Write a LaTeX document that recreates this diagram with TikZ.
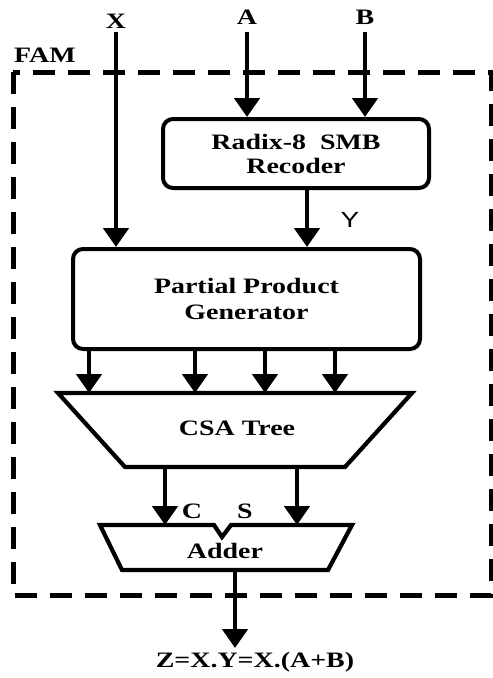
\documentclass[tikz,border=0pt]{standalone}
\usepackage{fontspec}
\setmainfont[FakeStretch=1.27]{Liberation Serif}
\newfontfamily\ysans[FakeStretch=1.27]{Liberation Sans}
\usetikzlibrary{arrows.meta}
\begin{document}
\begin{tikzpicture}[x=1pt,y=-1pt,
  lbl/.style={font=\fontsize{22}{25}\selectfont\bfseries, inner sep=0pt, anchor=base},
  blk/.style={draw, line width=4pt, rounded corners=10pt, align=center,
    font=\fontsize{22}{24}\selectfont\bfseries, inner sep=0pt},
  arr/.style={line width=4.8pt, -{Triangle[width=25pt,length=19pt]}},
  fam/.style={draw, line width=5pt, dash pattern=on 22pt off 13pt},
  shp/.style={draw, line width=4.2pt, line join=miter}]
\useasboundingbox (0,0) rectangle (493,678);

% FAM dashed boundary
\draw[fam] (13,72) rectangle (491,595);
\node[lbl] (famlbl) at (45,62) {FAM};

% blocks
\node[blk, minimum width=266pt, minimum height=69pt] (rec) at (296,153.5)
  {Radix-8~~SMB\\Recoder};
\node[blk, minimum width=347pt, minimum height=100pt] (ppg) at (246.5,299)
  {Partial Product\\[2pt]Generator};

% CSA tree
\draw[shp] (58,393) -- (412,393) -- (345,467) -- (125,467) -- cycle;
\node[lbl] (csa) at (237,435) {CSA Tree};
\coordinate (csab) at (235,467);

% Adder with notch
\draw[shp] (100,525) -- (214,525) -- (222,537) -- (231,525) -- (352,525)
  -- (328,570) -- (122,570) -- cycle;
\node[lbl] (add) at (225,558) {Adder};
\coordinate (addb) at (235,570);

% inputs
\node[lbl] (lx) at (116,28) {X};
\node[lbl] (la) at (247,24) {A};
\node[lbl] (lb) at (365,24) {B};
\coordinate (xs) at (116,32);
\coordinate (as) at (247,32);
\coordinate (bs) at (365,32);
\draw[arr] (xs) -- (xs |- ppg.north);
\draw[arr] (as) -- (as |- rec.north);
\draw[arr] (bs) -- (bs |- rec.north);

% Y
\coordinate (yc) at (307,200);
\draw[arr] (yc |- rec.south) -- (yc |- ppg.north);
\node[font=\fontsize{22}{25}\selectfont\ysans, inner sep=0pt, anchor=base] (ly) at (350,227) {Y};

% partial products
\coordinate (t1) at (89,393);
\coordinate (t2) at (195,393);
\coordinate (t3) at (265,393);
\coordinate (t4) at (335,393);
\foreach \t in {t1,t2,t3,t4} \draw[arr] (ppg.south -| \t) -- (\t);

% carry / sum
\coordinate (cin) at (165,525);
\coordinate (sin) at (297,525);
\draw[arr] (cin |- csab) -- (cin);
\draw[arr] (sin |- csab) -- (sin);
\node[lbl] (lc) at (192,518) {C};
\node[lbl] (ls) at (245,518) {S};

% output
\coordinate (zt) at (235,648);
\draw[arr] (addb) -- (zt);
\node[lbl] (lz) at (255,667) {Z=X.Y=X.(A+B)};
\end{tikzpicture}
\end{document}
